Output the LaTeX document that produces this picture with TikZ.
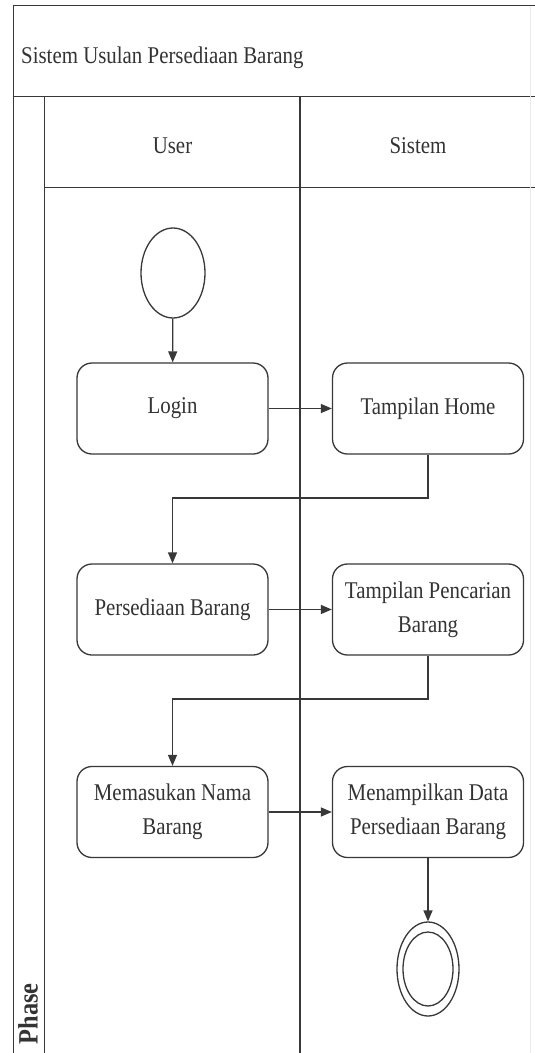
\documentclass[tikz,border=0pt]{standalone}
\usepackage{fontspec}
\setmainfont[FakeStretch=0.87]{Liberation Serif}
\usetikzlibrary{arrows.meta,shapes.geometric}
\begin{document}
\begin{tikzpicture}[x=1pt,y=-1pt,
  ln/.style={draw=black!78,line width=1.3pt},
  act/.style={ln,rounded corners=15pt,minimum width=191pt,minimum height=91pt,
    align=center,inner sep=2pt,font=\fontsize{24}{34}\selectfont,text=black!80},
  flow/.style={ln,-{Triangle[length=11pt,width=9pt]}},
  lbl/.style={font=\fontsize{24}{34}\selectfont,text=black!80,inner sep=0pt}]
\useasboundingbox (0,0) rectangle (535,1053);
\clip (0,0) rectangle (535,1053);
\fill[white] (0,0) rectangle (535,1053);
% frame and swimlanes
\draw[ln] (535,5.5) -- (13.5,5.5) -- (13.5,1060);
\draw[ln] (13.5,96.5) -- (535,96.5);
\draw[ln] (44.5,96.5) -- (44.5,1060);
\draw[ln] (44.5,187.5) -- (535,187.5);
\draw[ln] (300,96.5) -- (300,1060);
\draw[black!8,line width=0.8pt] (530,5.5) -- (530,1060);
% labels
\node[lbl,anchor=base west] (title) at (21,63) {Sistem Usulan Persediaan Barang};
\node[lbl,anchor=base] (user) at (172.5,153) {User};
\node[lbl,anchor=base] (sistem) at (418,153) {Sistem};
\node[lbl,font=\fontsize{28}{30}\selectfont\bfseries,rotate=90,anchor=east] (phase) at (28,983) {Phase};
% nodes
\node[ln,ellipse,minimum width=64pt,minimum height=90pt,inner sep=0pt] (start) at (173,273) {};
\node[act] (login) at (172.5,408.5) {Login};
\node[act] (home) at (428,408.5) {Tampilan Home};
\node[act] (persediaan) at (172.5,609.5) {Persediaan Barang};
\node[act] (pencarian) at (428,609.5) {Tampilan Pencarian\\Barang};
\node[act] (memasukan) at (172.5,812) {Memasukan Nama\\Barang};
\node[act] (menampilkan) at (428,812) {Menampilkan Data\\Persediaan Barang};
\node[ln,ellipse,minimum width=62pt,minimum height=94pt,inner sep=0pt] (final) at (428,969) {};
\node[ln,ellipse,minimum width=50pt,minimum height=74pt,inner sep=0pt] (finalin) at (428,969) {};
% connectors
\draw[flow] (start) -- (login);
\draw[flow] (login) -- (home);
\draw[flow] (home.south) -- (428,498) -| (persediaan.north);
\draw[flow] (persediaan) -- (pencarian);
\draw[flow] (pencarian.south) -- (428,699) -| (memasukan.north);
\draw[flow] (memasukan) -- (menampilkan);
\draw[flow] (menampilkan) -- (final);
\end{tikzpicture}
\end{document}
